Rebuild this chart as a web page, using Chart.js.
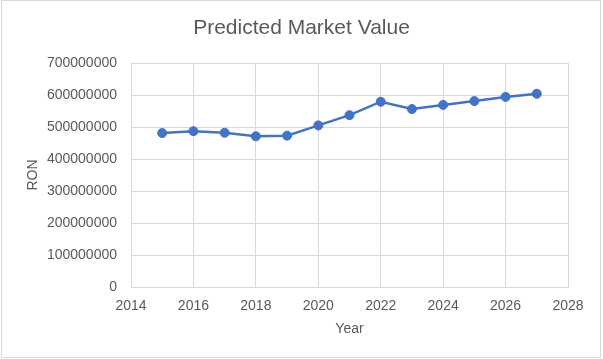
<!DOCTYPE html>
<html>
<head>
<meta charset="utf-8">
<script src="https://cdn.jsdelivr.net/npm/chart.js@4/dist/chart.umd.min.js"></script>
<style>
  html, body { margin: 0; padding: 0; background: #fff; }
  #wrap { width: 603px; height: 359px; position: relative; }
</style>
</head>
<body>
<div id="wrap"><canvas id="c" width="603" height="359"></canvas></div>
<script>
const chartTitle = "Predicted Market Value";
const xAxisTitle = "Year";
const yAxisTitle = "RON";
const years = [2015, 2016, 2017, 2018, 2019, 2020, 2021, 2022, 2023, 2024, 2025, 2026, 2027];
const values = [481000000, 487000000, 482000000, 471000000, 473000000, 505000000, 537000000, 579000000, 556000000, 569000000, 581000000, 594000000, 604000000];
const xMin = 2014, xMax = 2028, xStep = 2;
const yMin = 0, yMax = 700000000, yStep = 100000000;

const FONT = "'Liberation Sans', Arial, sans-serif";
const TEXT = "#595959";
const GRID = "#d9d9d9";

const decor = {
  id: 'decor',
  beforeDraw(chart) {
    const ctx = chart.ctx;
    ctx.save();
    ctx.fillStyle = '#ffffff';
    ctx.fillRect(0, 0, chart.width, chart.height);
    ctx.strokeStyle = GRID;
    ctx.lineWidth = 1;
    ctx.strokeRect(1.5, 0.5, 599, 357);
    ctx.restore();
  },
  afterDraw(chart) {
    const ctx = chart.ctx;
    ctx.save();
    ctx.fillStyle = TEXT;
    ctx.font = "21px " + FONT;
    ctx.textAlign = 'center';
    ctx.textBaseline = 'middle';
    ctx.fillText(chartTitle, chart.width / 2, 28);
    ctx.restore();
  }
};

new Chart(document.getElementById('c'), {
  type: 'line',
  data: {
    datasets: [{
      data: years.map((y, i) => ({ x: y, y: values[i] })),
      borderColor: '#4472C4',
      backgroundColor: '#4472C4',
      borderWidth: 2.5,
      pointRadius: 4.5,
      pointBorderWidth: 1,
      pointBackgroundColor: '#4472C4',
      pointBorderColor: '#4472C4',
      tension: 0,
      fill: false
    }]
  },
  options: {
    responsive: false,
    animation: false,
    devicePixelRatio: 1,
    layout: { padding: { top: 63, right: 35, left: 0, bottom: 0 } },
    plugins: {
      legend: { display: false },
      title: { display: false },
      tooltip: { enabled: false }
    },
    scales: {
      x: {
        type: 'linear',
        min: xMin, max: xMax,
        ticks: { stepSize: xStep, color: TEXT, font: { family: FONT, size: 14 }, padding: 11,
                 callback: v => String(v) },
        grid: { color: GRID, lineWidth: 1, drawTicks: false },
        border: { display: true, color: GRID },
        title: { display: true, text: xAxisTitle, color: TEXT, font: { family: FONT, size: 14 }, padding: { top: 21, bottom: 21 } },
        afterFit(s) { s.height = 72; }
      },
      y: {
        type: 'linear',
        min: yMin, max: yMax,
        ticks: { stepSize: yStep, color: TEXT, font: { family: FONT, size: 14 }, padding: 14,
                 callback: v => String(v) },
        grid: { color: GRID, lineWidth: 1, drawTicks: false },
        border: { display: true, color: GRID },
        title: { display: true, text: yAxisTitle, color: TEXT, font: { family: FONT, size: 14 }, padding: { top: 25, bottom: 25 } },
        afterFit(s) { s.width = 131; }
      }
    }
  },
  plugins: [decor]
});
</script>
</body>
</html>
